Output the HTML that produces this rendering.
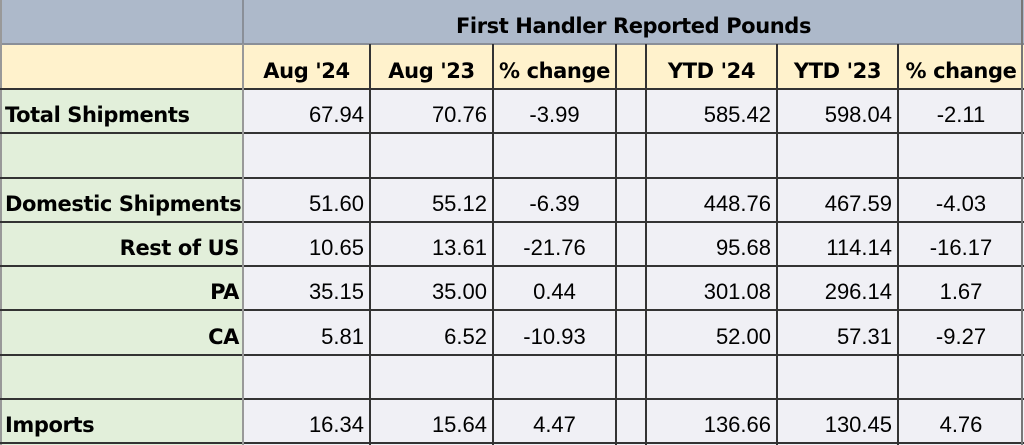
<!DOCTYPE html>
<html><head><meta charset="utf-8"><style>
html,body{margin:0;width:1024px;height:445px;overflow:hidden}
body{background:#f0f0f5;position:relative;font-family:"Liberation Sans",sans-serif}
.c{position:absolute;box-sizing:border-box;display:flex;align-items:center;padding:8px 6px 0 6px;font-size:22px;color:#000;white-space:nowrap}
.b{font-family:"DejaVu Sans","Liberation Sans",sans-serif;font-weight:bold;font-size:21px;letter-spacing:-0.4px}
.l{padding-left:5px;padding-right:4px}
.r{justify-content:flex-end}.m{justify-content:center}
.h{position:absolute;background:#333}
</style></head><body>
<div id="t"></div>
<script>
var X=[0,243,370,493,616,646,777,898,1024];
var Y=[0,44,89,133,178,222,266,310,355,399,443,445];
var rows=[
["Total Shipments","67.94","70.76","-3.99","","585.42","598.04","-2.11",0],
["","","","","","","","",0],
["Domestic Shipments","51.60","55.12","-6.39","","448.76","467.59","-4.03",0],
["Rest of US","10.65","13.61","-21.76","","95.68","114.14","-16.17",1],
["PA","35.15","35.00","0.44","","301.08","296.14","1.67",1],
["CA","5.81","6.52","-10.93","","52.00","57.31","-9.27",1],
["","","","","","","","",0],
["Imports","16.34","15.64","4.47","","136.66","130.45","4.76",0],
["","","","","","","","",0]];
var h="";
function cell(x0,x1,y0,y1,bg,txt,cls){h+='<div class="c '+cls+'" style="left:'+x0+'px;top:'+y0+'px;width:'+(x1-x0)+'px;height:'+(y1-y0)+'px;background:'+bg+'">'+txt+'</div>';}
cell(0,243,0,44,"#adb9ca","","");
cell(243,1024,0,44,"#adb9ca","First Handler Reported Pounds","b m");
var hd=["","Aug '24","Aug '23","% change","","YTD '24","YTD '23","% change"];
for(var i=0;i<8;i++)cell(X[i],X[i+1],44,89,"#fff2cc",hd[i],"b m");
for(var r=0;r<rows.length;r++){var R=rows[r];
 cell(0,243,Y[r+2],Y[r+3],"#e2efda",R[0],"b l"+(R[8]?" r":""));
 for(var i=1;i<8;i++)cell(X[i],X[i+1],Y[r+2],Y[r+3],"#f0f0f5",R[i],(i==3||i==7)?"m":"r");}
h+='<div class="h" style="left:0;top:43px;width:1024px;height:2px;background:#8a8f98"></div>';
h+='<div class="h" style="left:242px;top:0;width:2px;height:44px;background:#8a8f98"></div>';
h+='<div class="h" style="left:0;top:0;width:2px;height:445px;background:#999"></div>';
for(var j=2;j<11;j++)h+='<div class="h" style="left:0;top:'+(Y[j]-1)+'px;width:1024px;height:2px"></div>';
for(var i=1;i<8;i++)h+='<div class="h" style="left:'+(X[i]-1)+'px;top:44px;width:2px;height:401px;'+(i==1?'background:#999':'')+'"></div>';
h+='<div class="h" style="left:1021px;top:0;width:2px;height:445px;background:#777"></div>';
document.getElementById("t").innerHTML=h;
</script>
</body></html>
